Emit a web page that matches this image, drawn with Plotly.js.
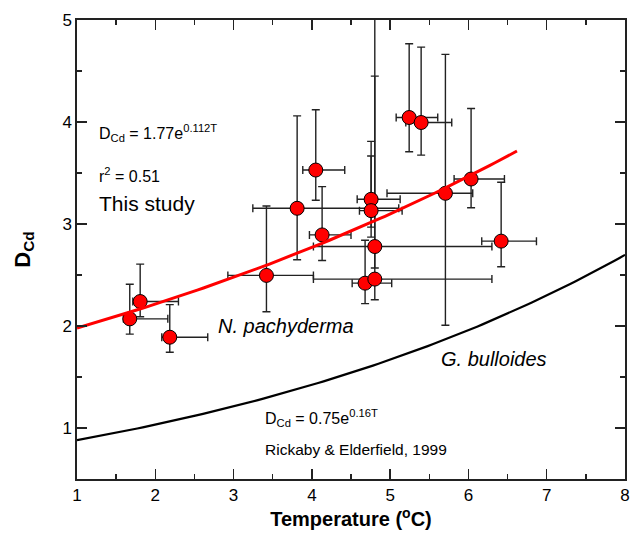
<!DOCTYPE html>
<html>
<head>
<meta charset="utf-8">
<script src="https://cdn.plot.ly/plotly-3.0.1.min.js"></script>
<style>
  html, body { margin: 0; padding: 0; background: #fff; }
  #chart { width: 631px; height: 534px; }
</style>
</head>
<body>
<div id="chart"></div>
<script>
// ---- Data ----
const temperature = [1.674, 1.807, 2.185, 3.42, 3.812, 4.05, 4.131, 4.68, 4.757, 4.757, 4.804, 4.804, 5.243, 5.396, 5.706, 6.034, 6.418];
const dcd         = [2.07, 2.24, 1.89, 2.496, 3.154, 3.529, 2.893, 2.42, 3.242, 3.131, 2.779, 2.46, 4.044, 3.995, 3.301, 3.441, 2.832];
const tempLow     = [1.594, 1.713, 2.083, 2.927, 3.246, 3.884, 3.969, 4.515, 4.579, 4.608, 4.02, 4.02, 5.077, 5.2, 4.96, 5.817, 6.17];
const tempHigh    = [2.16, 2.296, 2.67, 4.02, 5.11, 4.42, 4.50, 5.02, 5.128, 5.153, 6.30, 6.30, 5.608, 5.787, 6.055, 6.46, 6.869];
const dcdLow      = [1.92, 2.09, 1.743, 2.14, 2.649, 3.233, 2.642, 2.219, 2.871, 2.969, 2.568, 2.258, 3.708, 3.675, 2.007, 3.16, 2.581];
const dcdHigh     = [2.41, 2.607, 2.21, 3.177, 4.06, 4.12, 3.366, 2.84, 3.81, 3.666, 5.3, 4.45, 4.767, 4.734, 4.663, 4.132, 3.409];

// Printed equations on the chart: D = a * exp(b * T)
const thisStudyA = 1.77, thisStudyB = 0.112, thisStudyRange = [1, 6.62];
const rickabyA = 0.75, rickabyB = 0.16, rickabyRange = [1, 8];

const xTickVals = [1, 2, 3, 4, 5, 6, 7, 8];
const yTickVals = [1, 2, 3, 4, 5];

function curve(a, b, range, n) {
  const xs = [], ys = [];
  for (let i = 0; i <= n; i++) {
    const t = range[0] + (range[1] - range[0]) * i / n;
    xs.push(t); ys.push(a * Math.exp(b * t));
  }
  return {xs, ys};
}
const fitThis = curve(thisStudyA, thisStudyB, thisStudyRange, 80);
const fitRick = curve(rickabyA, rickabyB, rickabyRange, 100);

const errPlus = dcdHigh.map((v, i) => v - dcd[i]);
const errMinus = dcd.map((v, i) => v - dcdLow[i]);
const xPlus = tempHigh.map((v, i) => v - temperature[i]);
const xMinus = temperature.map((v, i) => v - tempLow[i]);

const FONT = 'Liberation Sans, Arial, Helvetica, sans-serif';

const traces = [
  { x: fitRick.xs, y: fitRick.ys, mode: 'lines', line: {color: '#000', width: 2.2}, hoverinfo: 'skip' },
  {
    x: temperature, y: dcd, mode: 'markers',
    marker: {size: 14, color: '#ff0000', line: {color: '#000', width: 1}},
    error_y: {type: 'data', symmetric: false, array: errPlus, arrayminus: errMinus, color: '#222', thickness: 1.4, width: 4},
    error_x: {type: 'data', symmetric: false, array: xPlus, arrayminus: xMinus, color: '#222', thickness: 1.4, width: 4}
  },
  { x: fitThis.xs, y: fitThis.ys, mode: 'lines', line: {color: '#ff0000', width: 3}, hoverinfo: 'skip' }
];

const ann = (x, y, text, size, extra) => Object.assign({
  x, y, xref: 'x', yref: 'y', text, showarrow: false, xanchor: 'left', yanchor: 'middle',
  font: {family: FONT, size: size, color: '#000'}
}, extra || {});

const layout = {
  width: 631, height: 534,
  margin: {l: 77.4, r: 5.5, t: 20, b: 54.7},
  paper_bgcolor: '#fff', plot_bgcolor: '#fff',
  showlegend: false,
  font: {family: FONT, color: '#000'},
  xaxis: {
    range: [1, 8], tickvals: xTickVals, ticktext: xTickVals.map(String),
    ticks: 'inside', ticklen: 10, tickwidth: 1.3, tickcolor: '#222',
    showline: true, linecolor: '#222', linewidth: 1.6, mirror: 'allticks',
    showgrid: false, zeroline: false,
    tickfont: {family: FONT, size: 17, color: '#000'},
    minor: {dtick: 0.5, ticks: 'inside', ticklen: 5, tickwidth: 1.3, tickcolor: '#222', showgrid: false},
    title: {text: '<b>Temperature (<sup>o</sup>C)</b>', font: {family: FONT, size: 20, color: '#000'}, standoff: 7}
  },
  yaxis: {
    range: [0.5, 5], tickvals: yTickVals, ticktext: yTickVals.map(String),
    ticks: 'inside', ticklen: 10, tickwidth: 1.3, tickcolor: '#222',
    showline: true, linecolor: '#222', linewidth: 1.6, mirror: 'allticks',
    showgrid: false, zeroline: false,
    tickfont: {family: FONT, size: 17, color: '#000'},
    minor: {dtick: 0.5, ticks: 'inside', ticklen: 5, tickwidth: 1.3, tickcolor: '#222', showgrid: false},
    title: {text: '<b>D<sub>Cd</sub></b>', font: {family: FONT, size: 22, color: '#000'}, standoff: 26}
  },
  annotations: [
    ann(1.25, 3.89, 'D<sub>Cd</sub> = 1.77e<sup>0.112T</sup>', 16),
    ann(1.25, 3.48, 'r<sup>2</sup> = 0.51', 16),
    ann(1.25, 3.20, 'This study', 21),
    ann(2.77, 2.00, '<i>N. pachyderma</i>', 20),
    ann(5.63, 1.68, '<i>G. bulloides</i>', 20),
    ann(3.37, 1.095, 'D<sub>Cd</sub> = 0.75e<sup>0.16T</sup>', 16),
    ann(3.37, 0.79, 'Rickaby &amp; Elderfield, 1999', 15.5)
  ]
};

Plotly.newPlot('chart', traces, layout, {staticPlot: true, displayModeBar: false});
</script>
</body>
</html>
